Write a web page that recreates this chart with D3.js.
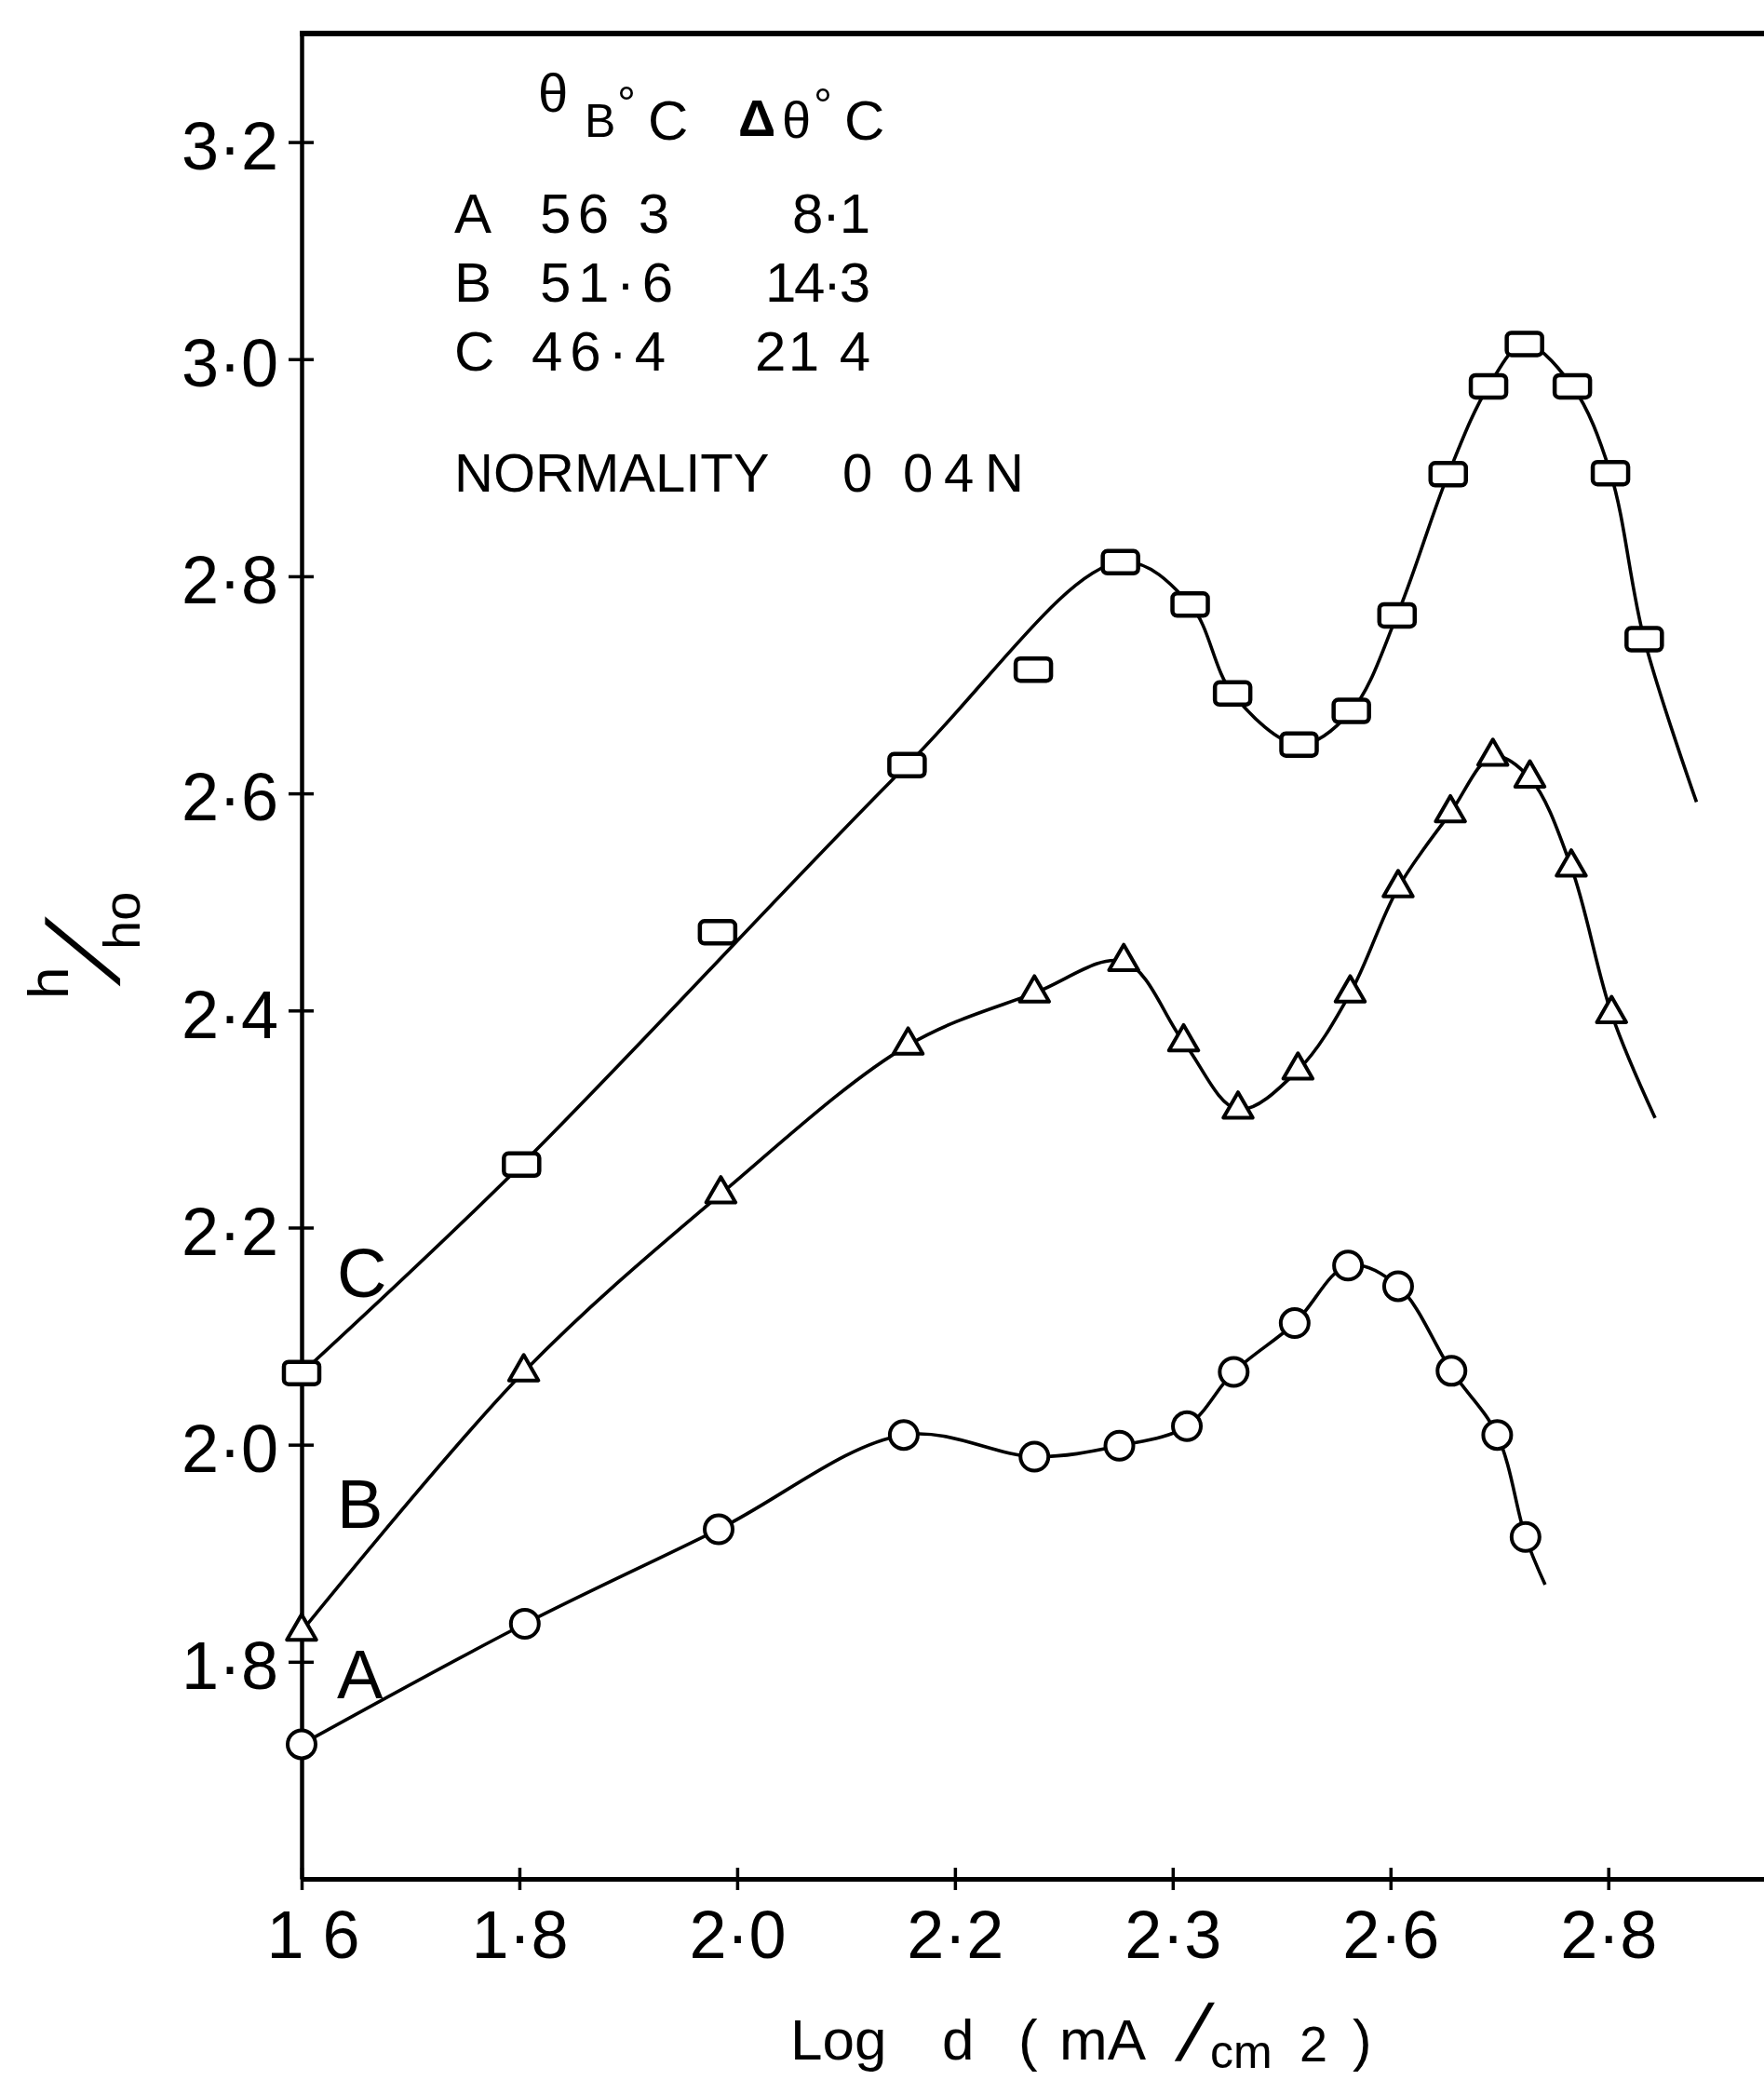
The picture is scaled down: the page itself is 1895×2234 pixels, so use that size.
<!DOCTYPE html>
<html>
<head>
<meta charset="utf-8">
<script src="https://cdn.jsdelivr.net/npm/d3@7"></script>
<style>
body { margin: 0; background: #fff; }
svg { display: block; font-family: "Liberation Sans", Arial, sans-serif; }
</style>
</head>
<body>
<div id="chart"></div>
<script>
// curve A (circles): log d and h/ho
var xA = [1.600, 1.805, 1.983, 2.153, 2.273, 2.351, 2.413, 2.456, 2.512, 2.561, 2.607, 2.656, 2.698, 2.724];
var hA = [1.724, 1.835, 1.922, 2.009, 1.989, 1.999, 2.017, 2.067, 2.112, 2.165, 2.146, 2.068, 2.009, 1.915];
var tailA = [2.742, 1.871];      // where the drawn curve stops

// curve B (triangles)
var xB = [1.600, 1.804, 1.985, 2.157, 2.273, 2.355, 2.410, 2.460, 2.515, 2.563, 2.607, 2.655, 2.694, 2.728, 2.766, 2.803];
var hB = [1.828, 2.067, 2.231, 2.368, 2.416, 2.445, 2.371, 2.309, 2.345, 2.416, 2.513, 2.582, 2.634, 2.614, 2.532, 2.397];
var tailB = [2.843, 2.301];

// curve C (rectangles)
var xC = [1.600, 1.802, 1.982, 2.156, 2.272, 2.352, 2.416, 2.455, 2.516, 2.564, 2.606, 2.653, 2.690, 2.723, 2.767, 2.802, 2.833];
var hC = [2.066, 2.258, 2.472, 2.626, 2.714, 2.813, 2.774, 2.692, 2.645, 2.676, 2.764, 2.894, 2.975, 3.014, 2.975, 2.895, 2.742];
var tailC = [2.881, 2.592];
var offCurveC = [2, 4];          // scattered points the hand drawn curve misses

var xTicks = [1.6, 1.8, 2.0, 2.2, 2.4, 2.6, 2.8];
var xTickLabels = ["1 6", "1·8", "2·0", "2·2", "2·3", "2·6", "2·8"];
var yTicks = [1.8, 2.0, 2.2, 2.4, 2.6, 2.8, 3.0, 3.2];
var yTickLabels = ["1·8", "2·0", "2·2", "2·4", "2·6", "2·8", "3·0", "3·2"];

var legendNames = ["A", "B", "C"];
var legendThetaB = ["56 3", "51·6", "46·4"];
var legendDeltaTheta = ["8·1", "14·3", "21 4"];

var w = 1895, h = 2234;

var svg = d3.select("#chart").append("svg")
    .attr("width", w)
    .attr("height", h);

var x = d3.scaleLinear().domain([1.6, 2.943]).range([324, 1895]);
var y = d3.scaleLinear().domain([1.6, 3.3]).range([2018, 36]);

// y axis, ticks cross the line
var yAxis = d3.axisLeft(y)
    .tickValues(yTicks)
    .tickSizeInner(14)
    .tickSizeOuter(0)
    .tickPadding(11)
    .tickFormat(function(d, i) { return yTickLabels[i]; });

var gy = svg.append("g")
    .attr("transform", "translate(" + x(1.6) + ",0)")
    .call(yAxis);
gy.select(".domain").attr("stroke-width", 4.5);
gy.selectAll(".tick line").attr("x1", 13).attr("stroke-width", 3.5);
gy.selectAll(".tick text")
    .attr("font-size", 72)
    .attr("font-family", "Liberation Sans, Arial, sans-serif")
    .attr("dy", "0.4em");

// x axis
var xAxis = d3.axisBottom(x)
    .tickValues(xTicks)
    .tickSizeInner(12)
    .tickSizeOuter(0)
    .tickPadding(22)
    .tickFormat(function(d, i) { return xTickLabels[i]; });

var gx = svg.append("g")
    .attr("transform", "translate(0," + y(1.6) + ")")
    .call(xAxis);
gx.select(".domain").attr("stroke-width", 5);
gx.selectAll(".tick line").attr("y1", -12).attr("stroke-width", 3.5);
gx.selectAll(".tick text")
    .attr("font-size", 72)
    .attr("font-family", "Liberation Sans, Arial, sans-serif")
    .attr("dx", function(d, i) { return i === 0 ? 12 : 0; });

// top edge of the frame
svg.append("line")
    .attr("x1", x.range()[0] - 2).attr("x2", x.range()[1])
    .attr("y1", y.range()[1]).attr("y2", y.range()[1])
    .attr("stroke", "#000").attr("stroke-width", 6);

// curves
var line = d3.line()
    .x(function(d) { return x(d[0]); })
    .y(function(d) { return y(d[1]); })
    .curve(d3.curveCatmullRom.alpha(0.5));

function curvePoints(xs, hs, tail, skip) {
    var pts = [];
    for (var i = 0; i < xs.length; i++) {
        if (skip && skip.indexOf(i) >= 0) continue;
        pts.push([xs[i], hs[i]]);
    }
    pts.push(tail);
    return pts;
}

var curves = [
    curvePoints(xA, hA, tailA),
    curvePoints(xB, hB, tailB),
    curvePoints(xC, hC, tailC, offCurveC)
];

svg.selectAll("path.curve")
    .data(curves)
    .enter()
    .append("path")
    .attr("class", "curve")
    .attr("d", line)
    .attr("fill", "none")
    .attr("stroke", "#000")
    .attr("stroke-width", 3.6)
    .attr("stroke-linejoin", "round");

// markers
var dataA = xA.map(function(v, i) { return [v, hA[i]]; });
var dataB = xB.map(function(v, i) { return [v, hB[i]]; });
var dataC = xC.map(function(v, i) { return [v, hC[i]]; });

svg.append("g").selectAll("circle")
    .data(dataA)
    .enter()
    .append("circle")
    .attr("cx", function(d) { return x(d[0]); })
    .attr("cy", function(d) { return y(d[1]); })
    .attr("r", 15)
    .attr("fill", "#fff")
    .attr("stroke", "#000")
    .attr("stroke-width", 4);

var tri = d3.symbol().type(d3.symbolTriangle).size(430);
svg.append("g").selectAll("path")
    .data(dataB)
    .enter()
    .append("path")
    .attr("d", tri)
    .attr("transform", function(d) { return "translate(" + x(d[0]) + "," + y(d[1]) + ")"; })
    .attr("fill", "#fff")
    .attr("stroke", "#000")
    .attr("stroke-width", 4)
    .attr("stroke-linejoin", "round");

svg.append("g").selectAll("rect")
    .data(dataC)
    .enter()
    .append("rect")
    .attr("x", function(d) { return x(d[0]) - 19; })
    .attr("y", function(d) { return y(d[1]) - 12; })
    .attr("width", 38)
    .attr("height", 24)
    .attr("rx", 5)
    .attr("fill", "#fff")
    .attr("stroke", "#000")
    .attr("stroke-width", 4.5);

// curve letters
var letterY = [1824, 1641, 1393];
svg.selectAll("text.curveName")
    .data(legendNames)
    .enter()
    .append("text")
    .attr("class", "curveName")
    .attr("x", 362)
    .attr("y", function(d, i) { return letterY[i]; })
    .attr("font-size", 74)
    .text(function(d) { return d; });

// legend block
var header = svg.append("text").attr("font-size", 60);
header.append("tspan").attr("x", 578).attr("y", 120).attr("font-size", 58).text("θ");
header.append("tspan").attr("x", 628).attr("y", 147).attr("font-size", 50).text("B");
header.append("tspan").attr("x", 663).attr("y", 128).attr("font-size", 50).text("°");
header.append("tspan").attr("x", 696).attr("y", 150).text("C");
header.append("tspan").attr("x", 793).attr("y", 146).attr("font-size", 56).attr("font-weight", "bold").text("Δ");
header.append("tspan").attr("x", 840).attr("y", 148).attr("font-size", 56).text("θ");
header.append("tspan").attr("x", 874).attr("y", 130).attr("font-size", 50).text("°");
header.append("tspan").attr("x", 907).attr("y", 150).text("C");

var rowY = [250, 324, 398];
var thetaWidth = [139, 143, 144];
var deltaWidth = [84, 113, 124];
var rows = svg.selectAll("g.legendRow")
    .data(legendNames)
    .enter()
    .append("g")
    .attr("class", "legendRow")
    .attr("font-size", 60);
rows.append("text").attr("x", 488).attr("y", function(d, i) { return rowY[i]; })
    .text(function(d) { return d; });
rows.append("text").attr("x", function(d, i) { return i === 2 ? 571 : 580; })
    .attr("y", function(d, i) { return rowY[i]; })
    .attr("textLength", function(d, i) { return thetaWidth[i]; })
    .attr("lengthAdjust", "spacing")
    .text(function(d, i) { return legendThetaB[i]; });
rows.append("text").attr("x", function(d, i) { return 935 - deltaWidth[i]; })
    .attr("y", function(d, i) { return rowY[i]; })
    .attr("textLength", function(d, i) { return deltaWidth[i]; })
    .attr("lengthAdjust", "spacing")
    .text(function(d, i) { return legendDeltaTheta[i]; });

var norm = svg.append("text").attr("font-size", 58).attr("y", 528);
norm.append("tspan").attr("x", 488).text("NORMALITY ");
norm.append("tspan").attr("x", 905).text("0 ");
norm.append("tspan").attr("x", 970).attr("textLength", 130).attr("lengthAdjust", "spacing").text("04N");

// x axis title
var xt = svg.append("text").attr("font-size", 62);
xt.append("tspan").attr("x", 849).attr("y", 2212).text("Log");
xt.append("tspan").attr("x", 1012).attr("y", 2212).text("d");
xt.append("tspan").attr("x", 1094).attr("y", 2212).text("(");
xt.append("tspan").attr("x", 1138).attr("y", 2212).text("mA");
xt.append("tspan").attr("x", 1300).attr("y", 2221).attr("font-size", 50).text("cm");
xt.append("tspan").attr("x", 1396).attr("y", 2214).attr("font-size", 54).text("2");
xt.append("tspan").attr("x", 1453).attr("y", 2212).text(")");
svg.append("text")
    .attr("transform", "translate(1262,2213) skewX(-17)")
    .attr("font-size", 86)
    .text("/");

// y axis title, turned to read upwards
var yt = svg.append("g").attr("transform", "translate(73,1073) rotate(-90)");
yt.append("text").attr("x", 0).attr("y", 0).attr("font-size", 62).text("h");
yt.append("text").attr("x", 53).attr("y", 77).attr("font-size", 56).text("ho");
yt.append("text")
    .attr("transform", "translate(14,55) skewX(-29)")
    .attr("font-size", 110)
    .text("/");
</script>
</body>
</html>
